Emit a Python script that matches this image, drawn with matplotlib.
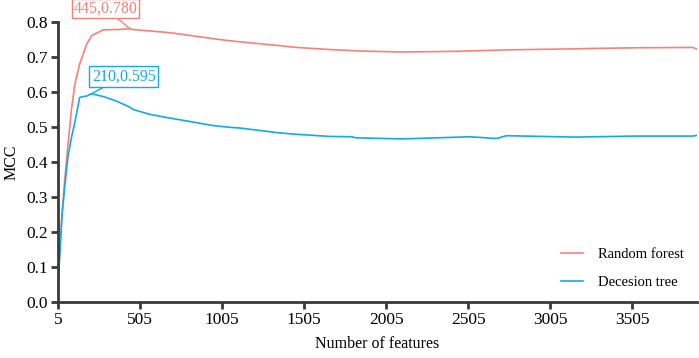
import matplotlib.pyplot as plt

# =============================
# DATA
# =============================
n_features = [5, 29, 46, 66, 87, 107, 137, 148, 178, 209, 279, 361, 445, 462, 564,
              666, 767, 950, 1052, 1113, 1357, 1459, 1662, 1794, 1824, 2089, 2109,
              2454, 2516, 2678, 2739, 3166, 3267, 3532, 3876, 3900]

rf_mcc = [0.05, 0.25, 0.35, 0.45, 0.55, 0.62, 0.68, 0.694, 0.735, 0.76, 0.777, 0.778,
          0.780, 0.778, 0.774, 0.770, 0.764, 0.752, 0.746, 0.743, 0.732, 0.727, 0.721,
          0.718, 0.717, 0.714, 0.714, 0.716, 0.717, 0.719, 0.720, 0.723, 0.724, 0.726,
          0.727, 0.722]

dt_mcc = [0.05, 0.244, 0.33, 0.416, 0.47, 0.512, 0.584, 0.586, 0.588, 0.595, 0.587,
          0.574, 0.556, 0.550, 0.536, 0.527, 0.519, 0.504, 0.499, 0.497, 0.483, 0.479,
          0.473, 0.472, 0.469, 0.466, 0.466, 0.471, 0.472, 0.467, 0.475, 0.471, 0.472,
          0.474, 0.474, 0.476]

x_ticks = [5, 505, 1005, 1505, 2005, 2505, 3005, 3505]
y_ticks = [0.0, 0.1, 0.2, 0.3, 0.4, 0.5, 0.6, 0.7, 0.8]

rf_best = (445, 0.780)
dt_best = (210, 0.595)

RED = "#F8807A"
BLUE = "#12AAEA"
AXC = "#3A3A3A"

plt.rcParams["font.family"] = ["Liberation Serif", "DejaVu Serif"]

fig = plt.figure(figsize=(6.99, 3.58), dpi=100)
ax = fig.add_axes([0.083, 0.156, 0.914, 0.783])

ax.plot(n_features, rf_mcc, color=RED, lw=1.2, label="Random forest")
ax.plot(n_features, dt_mcc, color=BLUE, lw=1.2, label="Decesion tree")

# =============================
# ANNOTATIONS
# =============================
ax.annotate(f"{rf_best[0]},{rf_best[1]:.3f}", xy=rf_best, xytext=(293, 0.838),
            textcoords="data", color=RED, fontsize=11.5, ha="center", va="center",
            bbox=dict(boxstyle="square,pad=0.1", fc="white", ec=RED, lw=1),
            arrowprops=dict(arrowstyle="-", color=RED, lw=1, shrinkA=0, shrinkB=0),
            annotation_clip=False)
ax.annotate(f"{dt_best[0]},{dt_best[1]:.3f}", xy=dt_best, xytext=(406, 0.645),
            textcoords="data", color=BLUE, fontsize=11.5, ha="center", va="center",
            bbox=dict(boxstyle="square,pad=0.15", fc="white", ec=BLUE, lw=1),
            arrowprops=dict(arrowstyle="-", color=BLUE, lw=1, shrinkA=0, shrinkB=0),
            annotation_clip=False)

# =============================
# AXES STYLE
# =============================
ax.set_xlim(5, 3900)
ax.set_ylim(0, 0.8)
ax.set_xticks(x_ticks)
ax.set_yticks(y_ticks)
ax.set_yticklabels([f"{v:.1f}" for v in y_ticks])

for side in ["top", "right"]:
    ax.spines[side].set_visible(False)
for side in ["left", "bottom"]:
    ax.spines[side].set_linewidth(2)
    ax.spines[side].set_color(AXC)

ax.tick_params(axis="both", direction="out", length=5, width=2, color=AXC,
               labelsize=12.5, labelcolor="black", pad=2)

ax.set_xlabel("Number of features", fontsize=11.5, labelpad=6)
ax.set_ylabel("MCC", fontsize=11.5, labelpad=5)

ax.legend(loc="lower right", frameon=False, fontsize=10.5, handlelength=1.5,
          labelspacing=1.0, handletextpad=1.0, bbox_to_anchor=(1.0, 0.0))

fig.savefig("out.png", dpi=100)
